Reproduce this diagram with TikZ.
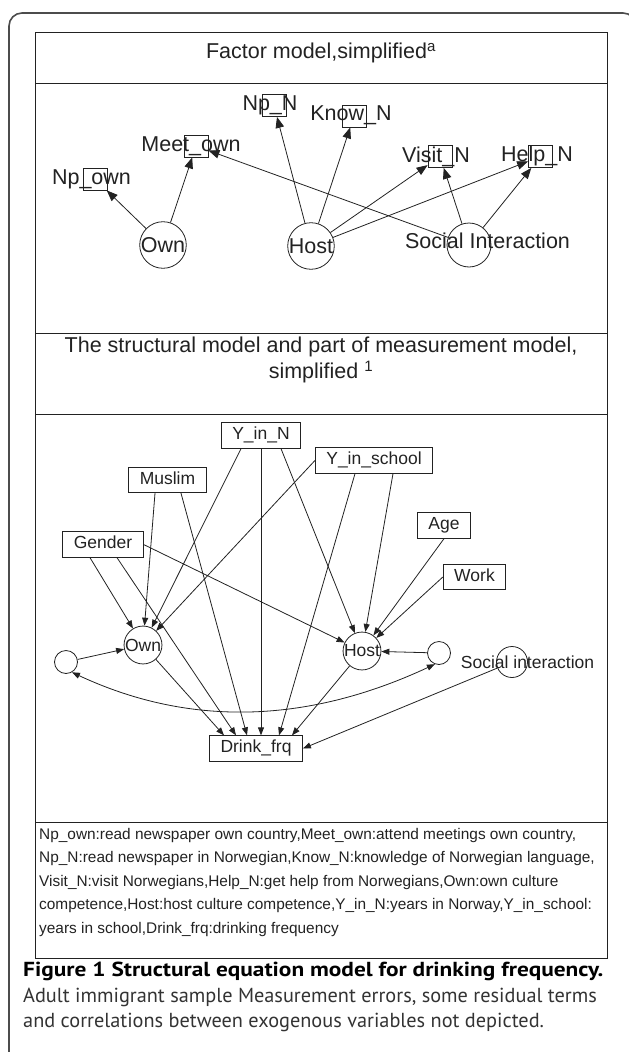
\documentclass[tikz,border=0pt]{standalone}
\usepackage{fontspec}
\setmainfont{Liberation Sans}
\newfontfamily\capfont[BoldFeatures={FakeStretch=1.15}]{PT Sans}
\usetikzlibrary{arrows.meta}
\definecolor{ink}{HTML}{222222}
\definecolor{capgray}{HTML}{333333}
\begin{document}
\begin{tikzpicture}[x=1pt,y=-1pt,
  frameline/.style={draw=ink,line width=0.9pt},
  outerframe/.style={draw=black!70,line width=1.6pt,rounded corners=13pt},
  hfont/.style={font=\fontsize{21.5}{26}\selectfont,text=ink},
  fbox/.style={draw=ink,line width=0.8pt,minimum width=24pt,minimum height=22pt,inner sep=0pt},
  flabel/.style={hfont,inner sep=0pt,text height=15.5pt,text depth=4.5pt},
  fcirc/.style={draw=ink,line width=0.8pt,circle,minimum size=44pt,inner sep=0pt,hfont},
  farrow/.style={draw=ink,line width=0.8pt,-{Triangle[length=11pt,width=8.5pt]}},
  sfont/.style={font=\fontsize{17.5}{20}\selectfont,text=ink},
  sbox/.style={draw=ink,line width=0.8pt,rectangle,sfont,inner xsep=11pt,inner ysep=0pt,minimum height=25.5pt,text height=12.6pt,text depth=3.7pt},
  scirc/.style={draw=ink,line width=0.8pt,circle,minimum size=32pt,inner sep=0pt,sfont},
  ecirc/.style={draw=ink,line width=0.8pt,circle,minimum size=23pt,inner sep=0pt},
  sarrow/.style={draw=ink,line width=0.8pt,-{Triangle[length=8pt,width=6pt]}},
  darrow/.style={draw=ink,line width=0.8pt,{Triangle[length=8pt,width=6pt]}-{Triangle[length=8pt,width=6pt]}}
]
\useasboundingbox (0,0) rectangle (629,1052);
\begin{scope}
  \clip (0,0) rectangle (629,1052);
  \draw[outerframe] (9,13) rectangle (636,1090);
\end{scope}

% inner panel and separators
\draw[frameline] (35,32) rectangle (607,958);
\draw[frameline] (35,83) -- (607,83);
\draw[frameline] (35,333) -- (607,333);
\draw[frameline] (35,414) -- (607,414);
\draw[frameline] (35,822) -- (607,822);

% headers
\node[hfont,inner sep=0pt] (t1) at (321,53) {Factor model,simplified\textsuperscript{a}};
\node[hfont,inner sep=0pt,align=center] (t2) at (321,360) {The structural model and part of measurement model,\\simplified \textsuperscript{1}};

% ---------- factor model ----------
\node[fcirc] (ownf) at (163,245) {Own};
\node[fcirc] (hostf) at (311,246) {Host};
\node[fcirc] (socf) at (469,245) {};
\node[flabel] (socfl) at (487.5,243) {Social Interaction};

\node[fbox] (npown) at (95,179) {};
\node[flabel] (npownl) at (91.5,179) {Np\_own};
\node[fbox] (meetown) at (196,146) {};
\node[flabel] (meetownl) at (191,146) {Meet\_own};
\node[fbox] (npn) at (274,105.5) {};
\node[flabel] (npnl) at (270,105) {Np\_N};
\node[fbox] (known) at (354,116) {};
\node[flabel] (knownl) at (351,115) {Know\_N};
\node[fbox] (visitn) at (440,156.5) {};
\node[flabel] (visitnl) at (436,157) {Visit\_N};
\node[fbox] (helpn) at (540.5,156.5) {};
\node[flabel] (helpnl) at (537,156) {Help\_N};

\draw[farrow] (ownf) -- (npown);
\draw[farrow] (ownf) -- (meetown);
\draw[farrow] (hostf) -- (npn);
\draw[farrow] (hostf) -- (known);
\draw[farrow] (hostf) -- (visitn);
\draw[farrow] (hostf) -- (helpn);
\draw[farrow] (socf) -- (visitn);
\draw[farrow] (socf) -- (helpn);
\draw[farrow] (socf) -- (meetown);

% ---------- structural model ----------
\node[sbox] (yinn) at (261,435.5) {Y\_in\_N};
\node[sbox] (muslim) at (167.5,480) {Muslim};
\node[sbox] (yins) at (374,460.5) {Y\_in\_school};
\node[sbox] (gender) at (103,544.5) {Gender};
\node[sbox] (age) at (444,525.5) {Age};
\node[sbox] (work) at (474.5,577) {Work};
\node[scirc] (own) at (143,645) {Own};
\node[scirc] (host) at (362,651) {Host};
\node[ecirc] (e1) at (66,662) {};
\node[ecirc] (e2) at (439,653) {};
\node[draw=ink,line width=0.8pt,circle,minimum size=31pt,inner sep=0pt] (soc) at (512,662) {};
\node[sfont,inner sep=0pt] (socl) at (527.5,662) {Social interaction};
\node[sbox] (drink) at (256,748.5) {Drink\_frq};

\draw[sarrow] ([xshift=-13pt]gender.south) -- (own);
\draw[sarrow] ([xshift=14pt]gender.south) -- ([xshift=-20pt]drink.north);
\draw[sarrow] (gender.east) -- (host);
\draw[sarrow] ([xshift=-12.5pt]muslim.south) -- (own);
\draw[sarrow] ([xshift=13.5pt]muslim.south) -- ([xshift=-9pt]drink.north);
\draw[sarrow] ([xshift=-20pt]yinn.south) -- (own);
\draw[sarrow] (yinn.south) -- ([xshift=5pt]drink.north);
\draw[sarrow] ([xshift=20pt]yinn.south) -- (host);
\draw[sarrow] (yins.west) -- (own);
\draw[sarrow] ([xshift=-19pt]yins.south) -- ([xshift=23pt]drink.north);
\draw[sarrow] ([xshift=19pt]yins.south) -- (host);
\draw[sarrow] (age.south) -- (host);
\draw[sarrow] (work.west) -- (host);
\draw[sarrow] (own) -- ([xshift=-32pt]drink.north);
\draw[sarrow] (host) -- ([xshift=36pt]drink.north);
\draw[sarrow] (e1) -- (own);
\draw[sarrow] (e2) -- (host);
\draw[sarrow] (soc) -- (drink.east);
\draw[darrow] (e1.-60) to[out=-25,in=-155,looseness=0.95] (e2.-110);

% ---------- legend ----------
\node[font=\fontsize{15.4}{23.5}\selectfont,text=ink,inner sep=0pt,align=left,anchor=north west] (legend) at (39,828)
{Np\_own:read newspaper own country,Meet\_own:attend meetings own country,\\
Np\_N:read newspaper in Norwegian,Know\_N:knowledge of Norwegian language,\\
Visit\_N:visit Norwegians,Help\_N:get help from Norwegians,Own:own culture\\
competence,Host:host culture competence,Y\_in\_N:years in Norway,Y\_in\_school:\\
years in school,Drink\_frq:drinking frequency};

% ---------- caption ----------
\node[font=\capfont\fontsize{20.3}{25.5}\selectfont,inner sep=0pt,align=left,anchor=north west] (caption) at (23,962)
{\textbf{Figure 1 Structural equation model for drinking frequency.}\\
\textcolor{capgray}{Adult immigrant sample Measurement errors, some residual terms}\\
\textcolor{capgray}{and correlations between exogenous variables not depicted.}};
\end{tikzpicture}
\end{document}
